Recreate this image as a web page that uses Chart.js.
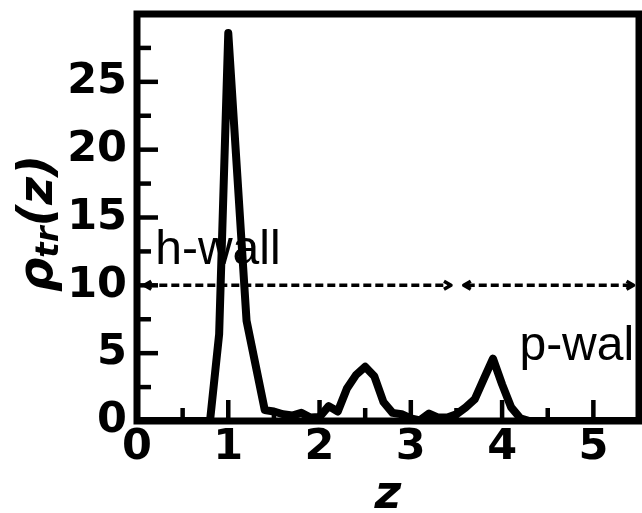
<!DOCTYPE html>
<html>
<head>
<meta charset="utf-8">
<script src="https://cdn.jsdelivr.net/npm/chart.js@4"></script>
<style>
  html, body { margin: 0; padding: 0; background: #fff; }
  #wrap { width: 642px; height: 513px; }
</style>
</head>
<body>
<div id="wrap"><canvas id="myChart"></canvas></div>
<script>
// data
var zValues = [0, 0.8, 0.9, 1.0, 1.1, 1.2, 1.3, 1.4, 1.5, 1.6, 1.7, 1.8, 1.9, 2.0,
    2.1, 2.2, 2.3, 2.4, 2.5, 2.6, 2.7, 2.8, 2.9, 3.0, 3.1, 3.2, 3.3, 3.4, 3.5,
    3.6, 3.7, 3.8, 3.9, 4.0, 4.1, 4.2, 4.3, 5.5];
var rhoValues = [0, 0, 6.4, 28.6, 18.0, 7.4, 4.1, 0.8, 0.7, 0.5, 0.4, 0.6, 0.25, 0.3,
    1.1, 0.7, 2.4, 3.4, 4.0, 3.3, 1.4, 0.6, 0.5, 0.2, 0.05, 0.55, 0.25, 0.25, 0.5,
    1.0, 1.6, 3.1, 4.6, 2.7, 1.0, 0.2, 0, 0];

var xTicks = [0, 1, 2, 3, 4, 5];
var xMinorTicks = [0.5, 1.5, 2.5, 3.5, 4.5];
var yTicks = [0, 5, 10, 15, 20, 25];
var yMinorTicks = [2.5, 7.5, 12.5, 17.5, 22.5, 27.5];

// region arrows at rho = 10: [from z, to z]
var arrowLevel = 10;
var arrowRanges = [[0.08, 3.44], [3.58, 5.44]];

// region labels
var regionLabels = ['h-wall', 'p-wall'];
var regionLabelZ = [0.2, 4.19];
var regionLabelRho = [11.6, 4.5];

var points = zValues.map(function(z, i) { return {x: z, y: rhoValues[i]}; });

var decorPlugin = {
    id: 'decor',
    afterDatasetsDraw: function(chart) {
        var ctx = chart.ctx;
        var xs = chart.scales.x, ys = chart.scales.y;
        var a = chart.chartArea;
        ctx.save();
        ctx.beginPath();
        ctx.rect(0, 0, a.right - 3, 513);
        ctx.clip();
        // dashed arrows
        ctx.strokeStyle = '#000';
        ctx.fillStyle = '#000';
        ctx.lineWidth = 3.5;
        var py = ys.getPixelForValue(arrowLevel);
        arrowRanges.forEach(function(r) {
            var x1 = xs.getPixelForValue(r[0]);
            var x2 = xs.getPixelForValue(r[1]);
            ctx.setLineDash([8, 4]);
            ctx.beginPath();
            ctx.moveTo(x1 + 3, py);
            ctx.lineTo(x2 - 3, py);
            ctx.stroke();
            ctx.setLineDash([]);
            ctx.lineJoin = 'round';
            ctx.beginPath();
            ctx.moveTo(x1 + 7, py - 4);
            ctx.lineTo(x1, py);
            ctx.lineTo(x1 + 7, py + 4);
            ctx.stroke();
            ctx.beginPath();
            ctx.moveTo(x2 - 7, py - 4);
            ctx.lineTo(x2, py);
            ctx.lineTo(x2 - 7, py + 4);
            ctx.stroke();
        });
        // region text
        ctx.font = '48px "Liberation Sans", Arial, sans-serif';
        ctx.textAlign = 'left';
        ctx.textBaseline = 'alphabetic';
        regionLabels.forEach(function(t, i) {
            ctx.fillText(t, xs.getPixelForValue(regionLabelZ[i]), ys.getPixelForValue(regionLabelRho[i]));
        });
        ctx.restore();
    },
    afterDraw: function(chart) {
        var ctx = chart.ctx;
        var xs = chart.scales.x, ys = chart.scales.y;
        var a = chart.chartArea;
        ctx.save();
        ctx.strokeStyle = '#000';
        ctx.lineCap = 'butt';
        // inward ticks
        ctx.lineWidth = 4.5;
        function yTick(v, len) {
            var p = ys.getPixelForValue(v);
            ctx.beginPath();
            ctx.moveTo(a.left, p);
            ctx.lineTo(a.left + len, p);
            ctx.stroke();
        }
        function xTick(v, len) {
            var p = xs.getPixelForValue(v);
            ctx.beginPath();
            ctx.moveTo(p, a.bottom);
            ctx.lineTo(p, a.bottom - len);
            ctx.stroke();
        }
        yTicks.forEach(function(v) { yTick(v, 21); });
        yMinorTicks.forEach(function(v) { yTick(v, 14); });
        xTicks.forEach(function(v) { xTick(v, 21); });
        xMinorTicks.forEach(function(v) { xTick(v, 13); });
        // frame
        ctx.lineWidth = 7;
        ctx.lineJoin = 'miter';
        ctx.strokeRect(a.left, a.top, a.right - a.left, a.bottom - a.top);
        // y axis title with subscript
        ctx.fillStyle = '#000';
        ctx.translate(52, 292);
        ctx.rotate(-Math.PI / 2);
        ctx.textAlign = 'left';
        ctx.textBaseline = 'alphabetic';
        ctx.font = 'italic bold 48px "DejaVu Sans"';
        ctx.fillText('\u03c1', 0, 0);
        var w = ctx.measureText('\u03c1').width;
        ctx.font = 'italic bold 32px "DejaVu Sans"';
        ctx.fillText('tr', w, 6);
        w += ctx.measureText('tr').width;
        ctx.font = 'italic bold 48px "DejaVu Sans"';
        ctx.fillText('(z)', w, 0);
        ctx.restore();
    }
};

var config = {
    type: 'line',
    data: {
        datasets: [{
            data: points,
            borderColor: '#000',
            backgroundColor: '#000',
            borderWidth: 8,
            borderJoinStyle: 'round',
            borderCapStyle: 'round',
            pointRadius: 0,
            tension: 0,
            fill: false
        }]
    },
    options: {
        responsive: false,
        animation: false,
        layout: { padding: { top: 14, right: 3, left: 0, bottom: 0 } },
        plugins: {
            legend: { display: false },
            tooltip: { enabled: false }
        },
        scales: {
            x: {
                type: 'linear',
                min: 0,
                max: 5.5,
                grid: { display: false, drawTicks: false },
                border: { display: false },
                afterBuildTicks: function(scale) {
                    scale.ticks = xTicks.map(function(v) { return {value: v}; });
                },
                afterFit: function(scale) {
                    scale.height = 92;
                    scale.paddingLeft = 0;
                    scale.paddingRight = 0;
                },
                ticks: {
                    color: '#000',
                    padding: 1,
                    maxRotation: 0,
                    autoSkip: false,
                    font: { family: 'DejaVu Sans', weight: 'bold', size: 43 }
                },
                title: {
                    display: true,
                    text: 'z',
                    color: '#000',
                    padding: { top: 0, bottom: -11 },
                    font: { family: 'DejaVu Sans', weight: 'bold', style: 'italic', size: 46 }
                }
            },
            y: {
                min: 0,
                max: 30,
                grid: { display: false, drawTicks: false },
                border: { display: false },
                afterBuildTicks: function(scale) {
                    scale.ticks = yTicks.map(function(v) { return {value: v}; });
                },
                afterFit: function(scale) {
                    scale.width = 137;
                    scale.paddingTop = 0;
                    scale.paddingBottom = 0;
                },
                ticks: {
                    color: '#000',
                    padding: 10,
                    autoSkip: false,
                    font: { family: 'DejaVu Sans', weight: 'bold', size: 43 }
                }
            }
        }
    },
    plugins: [decorPlugin]
};

window.addEventListener('DOMContentLoaded', function() {
    var canvas = document.getElementById('myChart');
    canvas.width = 642;
    canvas.height = 513;
    var ctx = canvas.getContext('2d');
    window.myLine = new Chart(ctx, config);
});
</script>
</body>
</html>
